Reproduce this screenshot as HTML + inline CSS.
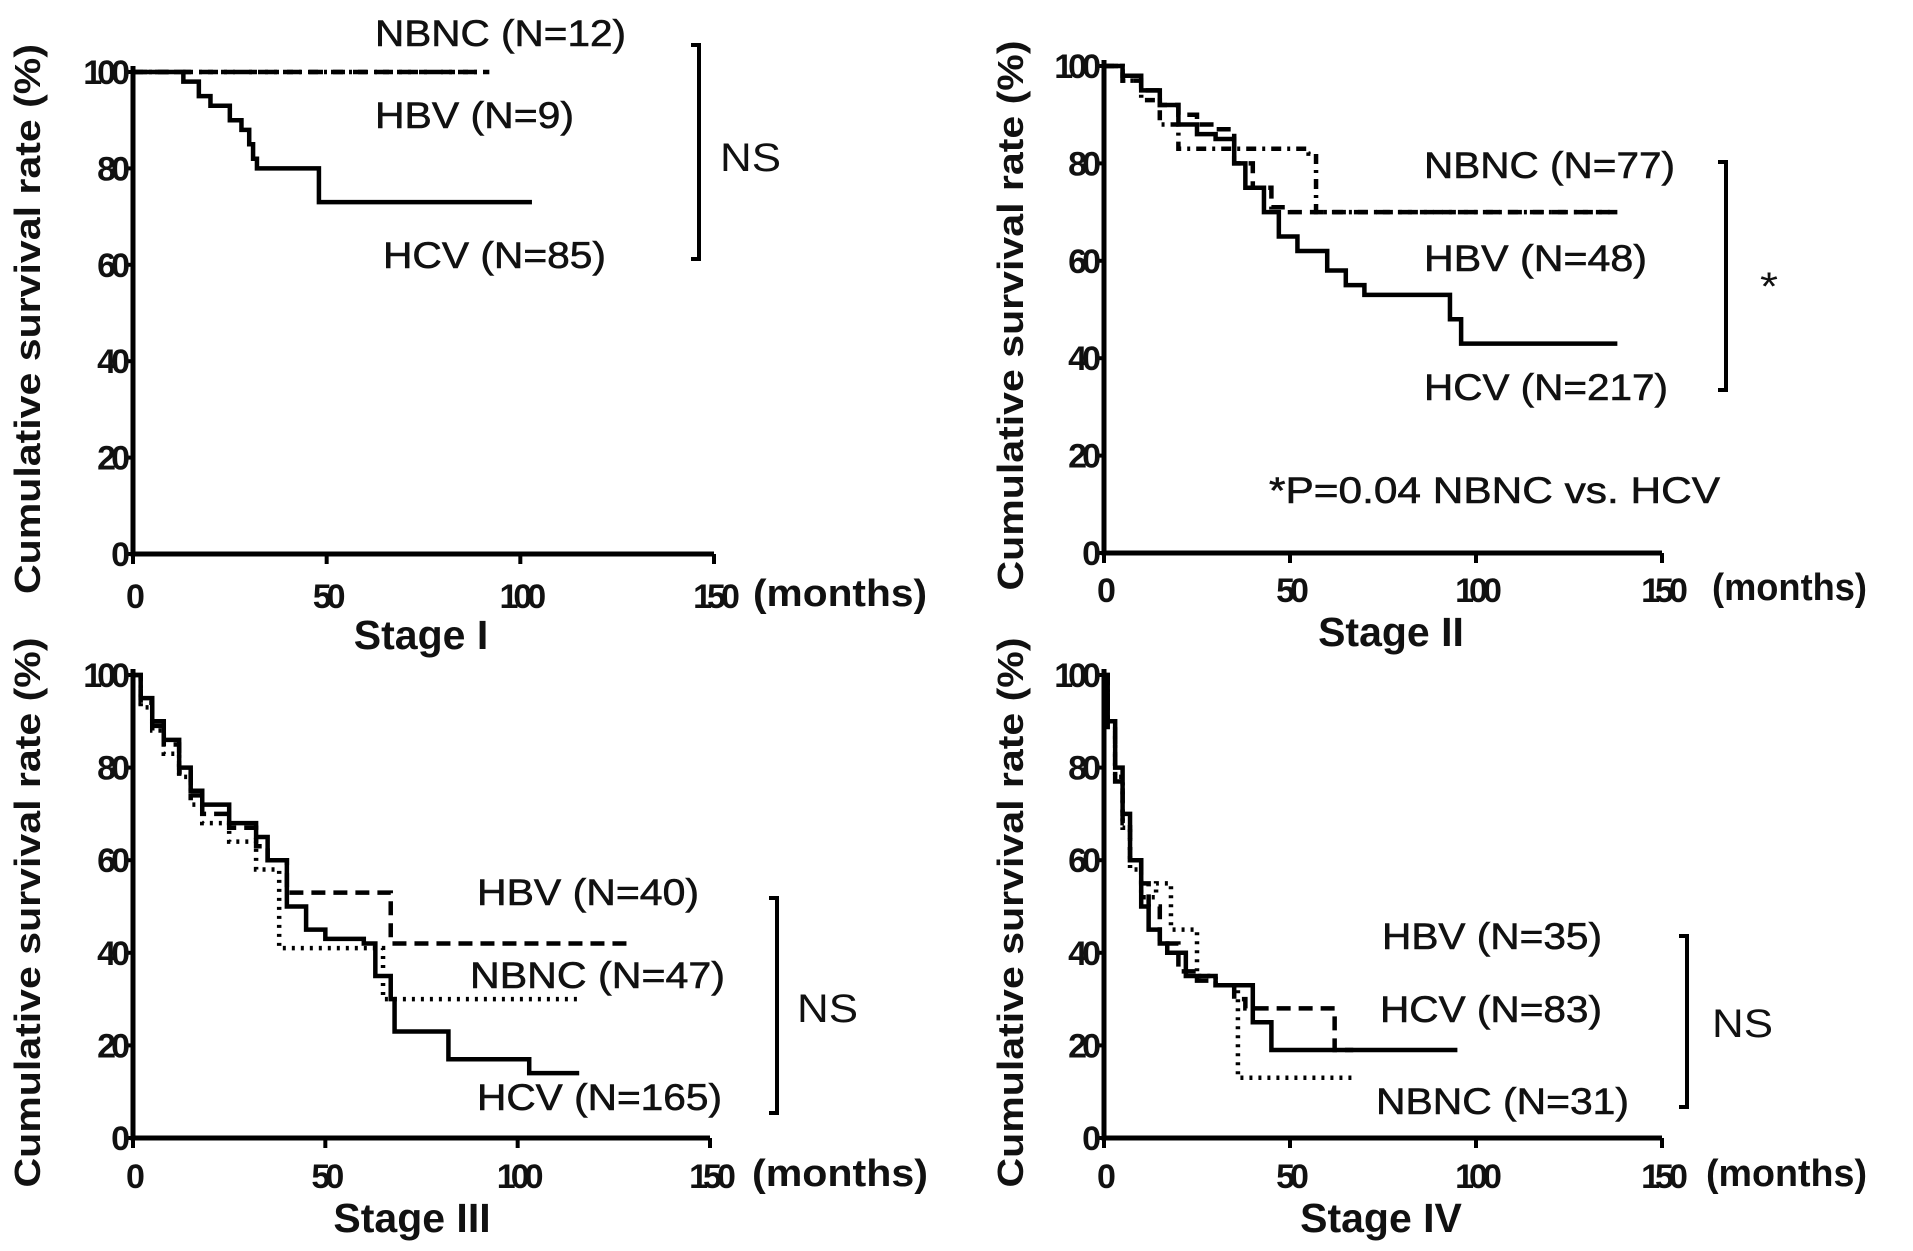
<!DOCTYPE html>
<html><head><meta charset="utf-8"><style>
html,body{margin:0;padding:0;background:#fff;}
svg{display:block;}
text{font-family:"Liberation Sans",Arial,sans-serif;fill:#111;}
</style></head><body>
<svg id="chart" width="1913" height="1251" viewBox="0 0 1913 1251" xmlns="http://www.w3.org/2000/svg"></svg>
<script>
// ---- data (months, survival %) ----
const xTicks = [0, 50, 100, 150];
const yTicks = [0, 20, 40, 60, 80, 100];
// Stage I
const s1HcvT = [0, 13, 17, 20, 25, 28, 30, 31, 32, 48, 103];
const s1HcvS = [100, 98, 95, 93, 90, 88, 85, 82, 80, 73, 73];
const s1HbvT = [0, 90];
const s1HbvS = [100, 100];
const s1NbncT = [0, 92];
const s1NbncS = [100, 100];
// Stage II
const s2HcvT = [0, 5, 10, 15, 20, 25, 30, 35, 38, 43, 47, 52, 60, 65, 70, 93, 96, 138];
const s2HcvS = [100, 98, 95, 92, 88, 86, 85, 80, 75, 70, 65, 62, 58, 55, 53, 48, 43, 43];
const s2HbvT = [0, 5, 10, 15, 20, 25, 30, 35, 40, 45, 50, 138];
const s2HbvS = [100, 97, 95, 92, 90, 88, 87, 80, 75, 71, 70, 70];
const s2NbncT = [0, 5, 10, 15, 20, 55, 57, 138];
const s2NbncS = [100, 97, 93, 88, 83, 82, 70, 70];
// Stage III
const s3HcvT = [0, 2, 5, 8, 12, 15, 18, 25, 32, 35, 40, 45, 50, 60, 63, 67, 68, 80, 82, 103, 116];
const s3HcvS = [100, 95, 90, 86, 80, 75, 72, 68, 65, 60, 50, 45, 43, 42, 35, 30, 23, 23, 17, 14, 14];
const s3HbvT = [0, 2, 5, 8, 12, 15, 18, 25, 32, 35, 40, 67, 130];
const s3HbvS = [100, 94, 89, 85, 79, 74, 70, 67, 63, 60, 53, 42, 42];
const s3NbncT = [0, 2, 5, 8, 12, 15, 18, 25, 32, 38, 60, 65, 116];
const s3NbncS = [100, 93, 88, 83, 78, 72, 68, 64, 58, 41, 41, 30, 30];
// Stage IV
const s4HcvT = [0, 1, 3, 5, 7, 10, 12, 15, 17, 22, 30, 38, 40, 45, 95];
const s4HcvS = [100, 90, 80, 70, 60, 50, 45, 42, 40, 35, 33, 33, 25, 19, 19];
const s4HbvT = [0, 1, 3, 5, 7, 10, 12, 15, 20, 25, 30, 35, 38, 62, 67];
const s4HbvS = [100, 88, 77, 68, 60, 55, 50, 42, 36, 34, 33, 30, 28, 19, 19];
const s4NbncT = [0, 1, 3, 5, 7, 10, 14, 18, 25, 30, 36, 67];
const s4NbncS = [100, 90, 78, 67, 58, 52, 55, 45, 35, 33, 13, 13];

const NS = "http://www.w3.org/2000/svg";
const svg = document.getElementById('chart');
function mk(tag, attrs, parent) {
  const e = document.createElementNS(NS, tag);
  for (const k in attrs) e.setAttribute(k, attrs[k]);
  (parent || svg).appendChild(e);
  return e;
}
function txt(str, x, y, size, opts, parent) {
  const a = Object.assign({x: x, y: y, 'font-size': size}, opts || {});
  const t = mk('text', a, parent);
  t.textContent = str;
  return t;
}

const panels = [
  {id:'stage-1', x0:133, x1:714, y0:554, y1:72, title:'Stage I', tx:421, ty:649, mx:753, my:606, mw:174, tickY:608, ytx:27,
   series:[['hcv',s1HcvT,s1HcvS,''],['hbv',s1HbvT,s1HbvS,'14 8'],['nbnc',s1NbncT,s1NbncS,'10 6 3 6']],
   labels:[['NBNC (N=12)',375,46,251],['HBV (N=9)',375,128,199],['HCV (N=85)',383,268,223]],
   br:[699,45,259], sig:['NS',720,171,61]},
  {id:'stage-2', x0:1104, x1:1662, y0:553, y1:66, title:'Stage II', tx:1391, ty:646, mx:1712, my:600, mw:155, tickY:602, ytx:1010,
   series:[['hcv',s2HcvT,s2HcvS,''],['hbv',s2HbvT,s2HbvS,'14 8'],['nbnc',s2NbncT,s2NbncS,'10 6 3 6']],
   labels:[['NBNC (N=77)',1424,178,251],['HBV (N=48)',1424,271,223],['HCV (N=217)',1424,400,244]],
   br:[1726,162,390], sig:['*',1760,300,18]},
  {id:'stage-3', x0:133, x1:710, y0:1138, y1:675, title:'Stage III', tx:412, ty:1232, mx:752, my:1186, mw:176, tickY:1188, ytx:27,
   series:[['hcv',s3HcvT,s3HcvS,''],['hbv',s3HbvT,s3HbvS,'14 8'],['nbnc',s3NbncT,s3NbncS,'3 6']],
   labels:[['HBV (N=40)',477,905,222],['NBNC (N=47)',470,988,255],['HCV (N=165)',477,1110,245]],
   br:[777,898,1113], sig:['NS',797,1022,61]},
  {id:'stage-4', x0:1104, x1:1662, y0:1138, y1:675, title:'Stage IV', tx:1381, ty:1232, mx:1706, my:1186, mw:161, tickY:1188, ytx:1010,
   series:[['hcv',s4HcvT,s4HcvS,''],['hbv',s4HbvT,s4HbvS,'14 8'],['nbnc',s4NbncT,s4NbncS,'3 6']],
   labels:[['HBV (N=35)',1382,949,220],['HCV (N=83)',1380,1022,222],['NBNC (N=31)',1376,1114,253]],
   br:[1687,936,1107], sig:['NS',1712,1037,61]}
];

panels.forEach(p => {
  const g = mk('g', {});
  
  
  const X = v => p.x0 + (p.x1 - p.x0) * v / 150;
  const Y = v => p.y0 + (p.y1 - p.y0) * v / 100;
  const ax = mk('path', {d:`M${p.x0},${Y(100)-6} V${p.y0} H${p.x1}`, stroke:'#000', 'stroke-width':5, fill:'none'}, g);
  
  
  yTicks.forEach(v => {
    mk('line', {x1:p.x0-8, x2:p.x0, y1:Y(v), y2:Y(v), stroke:'#000', 'stroke-width':4}, g);
    const t = txt(String(v), p.x0-8, Y(v)+12, 34, {'text-anchor':'end', 'font-weight':'bold', 'letter-spacing':'-5'}, g);
    
    
  });
  xTicks.forEach(v => {
    mk('line', {x1:X(v), x2:X(v), y1:p.y0, y2:p.y0+10, stroke:'#000', 'stroke-width':4}, g);
    const t = txt(String(v), X(v), p.tickY, 34, {'text-anchor':'middle', 'font-weight':'bold', 'letter-spacing':'-5'}, g);
    
    
  });
  const m = txt('(months)', p.mx, p.my, 38, {'font-weight':'bold', textLength:p.mw, lengthAdjust:'spacingAndGlyphs'}, g);
  
  
  const st = txt(p.title, p.tx, p.ty, 41, {'text-anchor':'middle', 'font-weight':'bold'}, g);
  
  
  const yc = (p.y0 + p.y1) / 2 + 6;
  const yt = txt('Cumulative survival rate (%)', 0, 0, 36, {'text-anchor':'middle', 'font-weight':'bold', transform:`translate(${p.ytx+13},${yc}) rotate(-90)`, textLength:550, lengthAdjust:'spacingAndGlyphs'}, g);
  
  
  p.series.forEach(s => {
    const T = s[1], S = s[2];
    let d = `M${X(T[0])},${Y(S[0])}`;
    for (let i = 1; i < T.length; i++) {
      d += ` H${X(T[i])} V${Y(S[i])}`;
    }
    const a = {d:d, stroke:'#000', 'stroke-width':4.5, fill:'none'};
    if (s[3]) a['stroke-dasharray'] = s[3];
    const path = mk('path', a, g);
    
    
  });
  p.labels.forEach(l => {
    const t = txt(l[0], l[1], l[2], 37, {textLength:l[3], lengthAdjust:'spacingAndGlyphs', stroke:'#111', 'stroke-width':0.6}, g);
    
    
  });
  const b = mk('path', {d:`M${p.br[0]-8},${p.br[1]} H${p.br[0]} V${p.br[2]} H${p.br[0]-8}`, stroke:'#000', 'stroke-width':4, fill:'none'}, g);
  
  
  const sg = txt(p.sig[0], p.sig[1], p.sig[2], 40, {textLength:p.sig[3], lengthAdjust:'spacingAndGlyphs'}, g);
  
  
});
const pv = txt('*P=0.04 NBNC vs. HCV', 1269, 503, 37, {textLength:451, lengthAdjust:'spacingAndGlyphs', stroke:'#111', 'stroke-width':0.6});


</script>
</body></html>
